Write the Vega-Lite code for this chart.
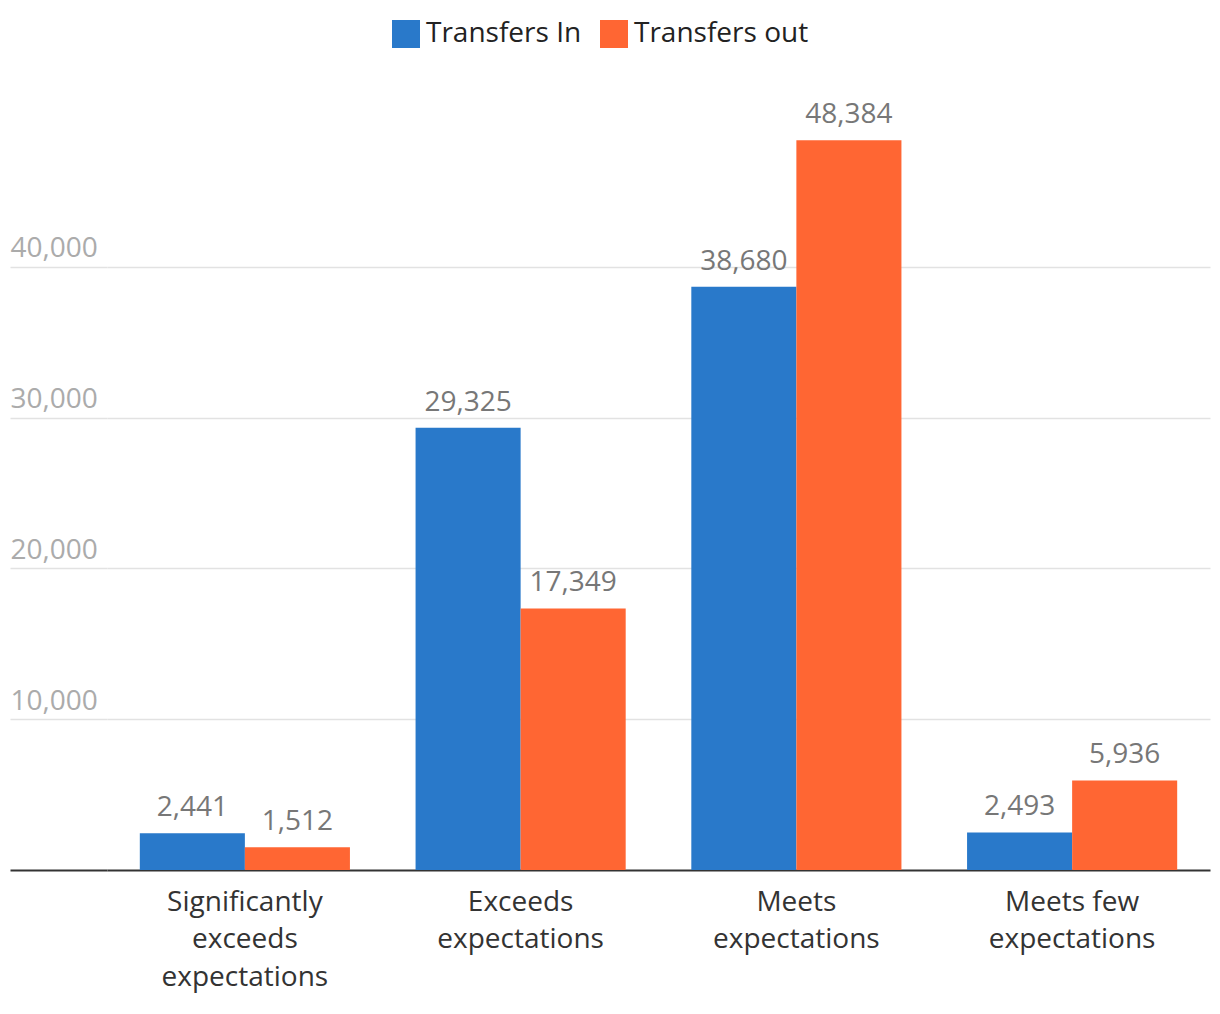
{
  "$schema": "https://vega.github.io/schema/vega-lite/v6.json",
  "width": 1103,
  "height": 754,
  "autosize": {"type": "none"},
  "padding": {"left": 107, "top": 116, "right": 10, "bottom": 144},
  "background": "white",
  "config": {"font": "Open Sans", "view": {"stroke": null}},
  "data": {
    "values": [
      {"category": "Significantly exceeds expectations", "series": "Transfers In", "value": 2441},
      {"category": "Significantly exceeds expectations", "series": "Transfers out", "value": 1512},
      {"category": "Exceeds expectations", "series": "Transfers In", "value": 29325},
      {"category": "Exceeds expectations", "series": "Transfers out", "value": 17349},
      {"category": "Meets expectations", "series": "Transfers In", "value": 38680},
      {"category": "Meets expectations", "series": "Transfers out", "value": 48384},
      {"category": "Meets few expectations", "series": "Transfers In", "value": 2493},
      {"category": "Meets few expectations", "series": "Transfers out", "value": 5936}
    ]
  },
  "encoding": {
    "x": {
      "field": "category",
      "type": "nominal",
      "sort": ["Significantly exceeds expectations", "Exceeds expectations", "Meets expectations", "Meets few expectations"],
      "scale": {"paddingInner": 0.238, "paddingOuter": 0.119},
      "axis": {
        "title": null,
        "domain": false,
        "ticks": false,
        "labelAngle": 0,
        "labelFontSize": 28,
        "labelColor": "#333333",
        "labelPadding": 18,
        "labelLineHeight": 37.5,
        "labelBaseline": "top",
        "labelLimit": 0,
        "labelExpr": "datum.value == 'Significantly exceeds expectations' ? ['Significantly', 'exceeds', 'expectations'] : datum.value == 'Exceeds expectations' ? ['Exceeds', 'expectations'] : datum.value == 'Meets expectations' ? ['Meets', 'expectations'] : ['Meets few', 'expectations']"
      }
    },
    "xOffset": {
      "field": "series",
      "type": "nominal",
      "sort": ["Transfers In", "Transfers out"],
      "scale": {"paddingInner": 0, "paddingOuter": 0}
    },
    "y": {
      "field": "value",
      "type": "quantitative",
      "scale": {"domain": [0, 50000], "nice": false},
      "axis": {
        "title": null,
        "values": [0, 10000, 20000, 30000, 40000],
        "labelExpr": "datum.value == 0 ? '' : format(datum.value, ',')",
        "domain": false,
        "tickSize": 97,
        "tickColor": {"condition": {"test": "datum.value === 0", "value": "#333333"}, "value": "#e2e2e2"},
        "tickWidth": {"condition": {"test": "datum.value === 0", "value": 2}, "value": 1.5},
        "grid": true,
        "gridColor": {"condition": {"test": "datum.value === 0", "value": "#333333"}, "value": "#e2e2e2"},
        "gridWidth": {"condition": {"test": "datum.value === 0", "value": 2}, "value": 1.5},
        "labelAlign": "left",
        "labelPadding": 0,
        "labelBaseline": "alphabetic",
        "labelOffset": -10,
        "labelFontSize": 28,
        "labelColor": "#ababab"
      }
    }
  },
  "layer": [
    {
      "mark": {"type": "bar"},
      "encoding": {
        "color": {
          "field": "series",
          "type": "nominal",
          "scale": {"domain": ["Transfers In", "Transfers out"], "range": ["#2979CA", "#FF6633"]},
          "legend": {
            "title": null,
            "orient": "none",
            "legendX": 285,
            "legendY": -96,
            "direction": "horizontal",
            "symbolType": "square",
            "symbolSize": 784,
            "symbolStrokeWidth": 0,
            "symbolOpacity": 1,
            "labelFontSize": 28,
            "labelLimit": 0,
            "labelColor": "#222222",
            "labelOffset": 6,
            "columnPadding": 18
          }
        }
      }
    },
    {
      "mark": {"type": "text", "baseline": "alphabetic", "dy": -17, "fontSize": 28, "color": "#777777"},
      "encoding": {"text": {"field": "value", "type": "quantitative", "format": ","}}
    }
  ]
}
